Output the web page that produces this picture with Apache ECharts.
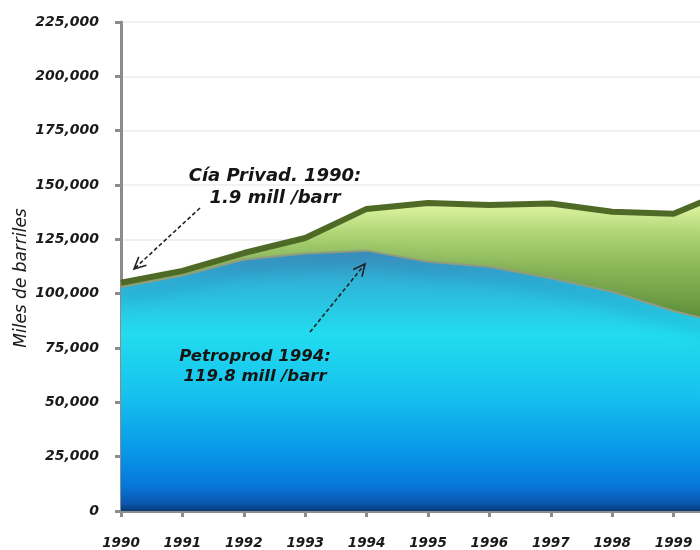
<!DOCTYPE html>
<html>
<head>
<meta charset="utf-8">
<title>Producción de petróleo</title>
<script src="https://cdn.jsdelivr.net/npm/echarts@6/dist/echarts.min.js"></script>
<style>
    html, body { margin: 0; padding: 0; background: #fff; }
    #chart-produccion { width: 700px; height: 550px; }
</style>
</head>
<body>
<div id="chart-produccion"></div>
<script>

// ---------- data (miles de barriles) ----------
var years = ['1990', '1991', '1992', '1993', '1994', '1995', '1996', '1997', '1998', '1999', '2000'];
var petroprod = [103100, 108300, 115700, 118500, 119800, 114700, 112400, 107100, 100900, 92000, 85000];
var cia_privadas = [1900, 2200, 3000, 7100, 19200, 27000, 28400, 34400, 36800, 44800, 63500];

var y_min = 0;
var y_max = 225000;
var y_step = 25000;

var note_privadas = 'Cía Privad. 1990:\n1.9 mill /barr';
var note_petroprod = 'Petroprod 1994:\n119.8 mill /barr';


function arrow(x1, y1, x2, y2) {

    var ang = Math.atan2(y2 - y1, x2 - x1);
    var len = 13;
    var spread = 0.45;

    return [
        {
            type: 'line',
            z: 100,
            shape: { x1: x1, y1: y1, x2: x2, y2: y2 },
            style: { stroke: '#222', lineWidth: 1.6, lineDash: [4, 2.5] }
        },
        {
            type: 'polyline',
            z: 100,
            shape: {
                points: [
                    [x2 - len * Math.cos(ang - spread), y2 - len * Math.sin(ang - spread)],
                    [x2, y2],
                    [x2 - len * Math.cos(ang + spread), y2 - len * Math.sin(ang + spread)]
                ]
            },
            style: { stroke: '#222', lineWidth: 1.6, fill: null }
        }
    ];
}


var chart = echarts.init(document.getElementById('chart-produccion'));

var axisGray = '#8c8c8c';

var option = {
    animation: false,
    backgroundColor: '#fff',
    grid: {
        left: 121,
        top: 22,
        width: 614,
        height: 489,
        outerBoundsMode: 'none'
    },
    xAxis: {
        type: 'category',
        data: years,
        boundaryGap: false,
        axisLine: { lineStyle: { color: axisGray, width: 3 } },
        axisTick: { show: true, length: 6, lineStyle: { color: axisGray, width: 3 } },
        axisLabel: {
            margin: 25,
            color: '#1a1a1a',
            fontFamily: 'DejaVu Sans',
            fontStyle: 'italic',
            fontWeight: 'bold',
            fontSize: 13.5
        },
        splitLine: { show: false }
    },
    yAxis: {
        type: 'value',
        min: y_min,
        max: y_max,
        interval: y_step,
        axisLine: { show: true, lineStyle: { color: axisGray, width: 3 } },
        axisTick: { show: true, length: 6, lineStyle: { color: axisGray, width: 3 } },
        axisLabel: {
            margin: 22,
            color: '#1a1a1a',
            fontFamily: 'DejaVu Sans',
            fontStyle: 'italic',
            fontWeight: 'bold',
            fontSize: 14,
            formatter: function (v) { return v.toLocaleString('en-US'); }
        },
        splitLine: { show: true, lineStyle: { color: '#ececec', width: 1.5 } }
    },
    series: [
        {
            name: 'Petroproducción',
            type: 'line',
            stack: 'total',
            symbol: 'none',
            data: petroprod,
            // borde con sombra para imitar el bisel 3D
            lineStyle: {
                width: 2,
                color: '#8f9c80',
                shadowColor: 'rgba(20, 75, 140, 0.85)',
                shadowBlur: 16,
                shadowOffsetY: 9
            },
            areaStyle: {
                opacity: 1,
                color: new echarts.graphic.LinearGradient(0, 0, 0, 1, [
                    { offset: 0, color: '#3f8fbd' },
                    { offset: 0.12, color: '#2fb4d8' },
                    { offset: 0.32, color: '#22dcee' },
                    { offset: 0.55, color: '#17c2ee' },
                    { offset: 0.77, color: '#0898e8' },
                    { offset: 0.9, color: '#0678dc' },
                    { offset: 0.97, color: '#0a58b0' },
                    { offset: 1, color: '#073a74' }
                ])
            }
        },
        {
            name: 'Cía Privadas',
            type: 'line',
            stack: 'total',
            symbol: 'none',
            data: cia_privadas,
            lineStyle: { width: 6, color: '#4f6a26', join: 'round' },
            areaStyle: {
                opacity: 1,
                color: new echarts.graphic.LinearGradient(0, 0, 0, 1, [
                    { offset: 0, color: '#ecfcb8' },
                    { offset: 0.15, color: '#d6f09a' },
                    { offset: 0.35, color: '#aad172' },
                    { offset: 0.6, color: '#88b456' },
                    { offset: 1, color: '#5a8a34' }
                ])
            }
        }
    ],
    graphic: [
        {
            type: 'text',
            z: 100,
            x: 22,
            y: 278,
            rotation: Math.PI / 2,
            style: {
                text: 'Miles de barriles',
                fill: '#1a1a1a',
                font: 'italic 17px "DejaVu Sans"',
                align: 'center',
                verticalAlign: 'middle'
            }
        },
        {
            type: 'text',
            z: 100,
            x: 275,
            y: 165,
            style: {
                text: note_privadas,
                fill: '#151515',
                font: 'italic bold 18px "DejaVu Sans"',
                lineHeight: 22,
                align: 'center',
                verticalAlign: 'top'
            }
        },
        {
            type: 'text',
            z: 100,
            x: 255,
            y: 347,
            style: {
                text: note_petroprod,
                fill: '#151515',
                font: 'italic bold 16.5px "DejaVu Sans"',
                lineHeight: 20,
                align: 'center',
                verticalAlign: 'top'
            }
        }
    ].concat(arrow(200, 208, 134, 269)).concat(arrow(310, 332, 365, 264))
};

chart.setOption(option);

</script>
</body>
</html>
